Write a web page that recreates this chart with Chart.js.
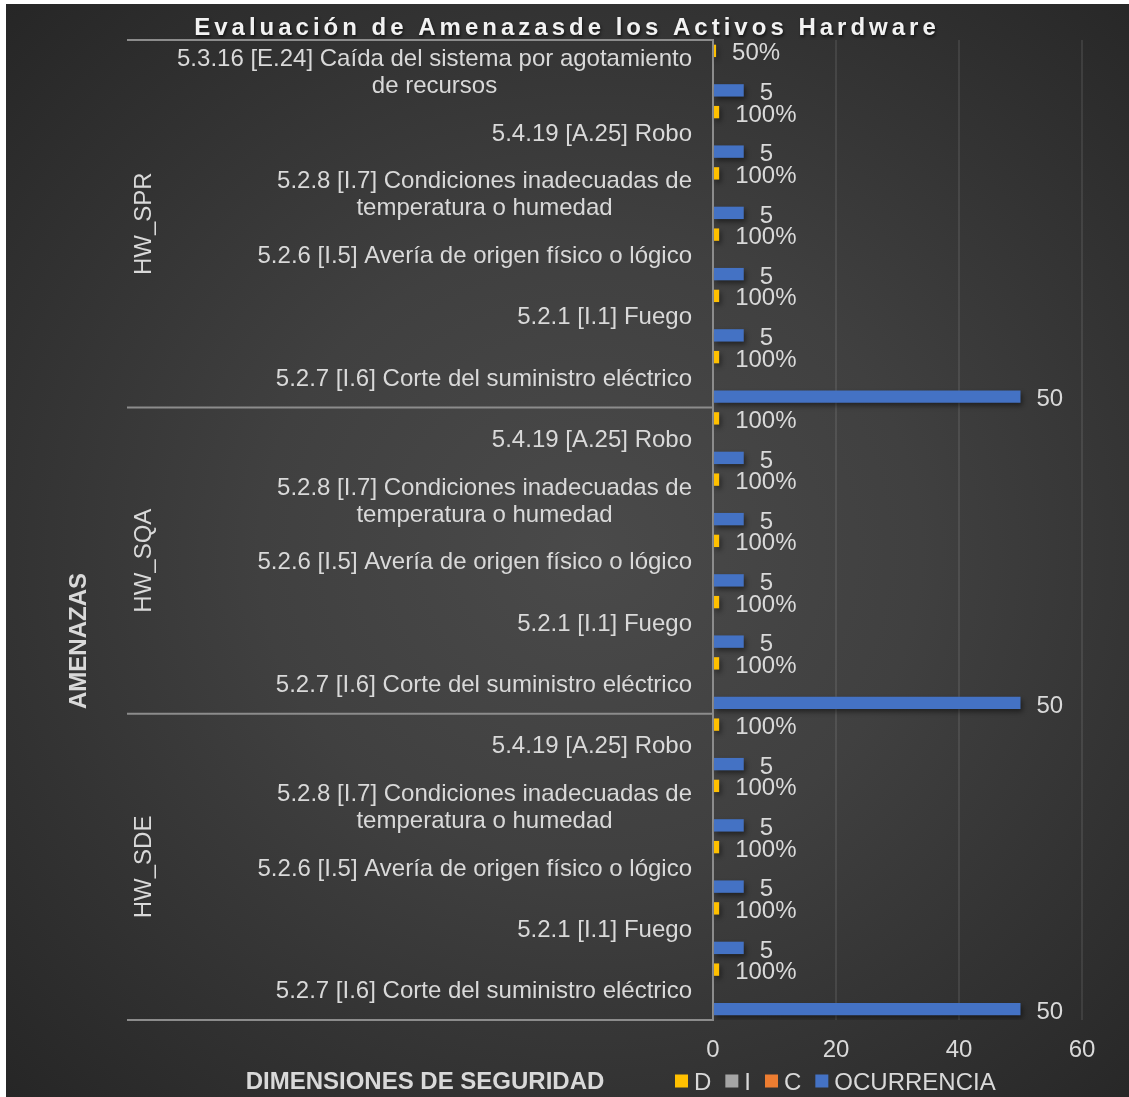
<!DOCTYPE html>
<html>
<head>
<meta charset="utf-8">
<script src="https://cdn.jsdelivr.net/npm/chart.js@4.4.0/dist/chart.umd.min.js"></script>
<style>
  html, body { margin: 0; padding: 0; background: #fff; }
  #wrap {
    position: absolute; left: 6px; top: 4px; width: 1123px; height: 1093px;
    background: radial-gradient(ellipse at 52% 50%, #4a4a4a 0%, #404040 40%, #262626 100%);
  }
  canvas { display: block; }
</style>
</head>
<body>
<div id="wrap"><canvas id="threatChart" width="1123" height="1093"></canvas></div>
<script>
const groups = ['HW_SPR', 'HW_SQA', 'HW_SDE']
const groupSizes = [6, 5, 5]

const categories = [
    ['5.3.16 [E.24] Caída del sistema por agotamiento', 'de recursos'],
    '5.4.19 [A.25] Robo',
    ['5.2.8 [I.7] Condiciones inadecuadas de', 'temperatura o humedad'],
    '5.2.6 [I.5] Avería de origen físico o lógico',
    '5.2.1 [I.1] Fuego',
    '5.2.7 [I.6] Corte del suministro eléctrico',
    '5.4.19 [A.25] Robo',
    ['5.2.8 [I.7] Condiciones inadecuadas de', 'temperatura o humedad'],
    '5.2.6 [I.5] Avería de origen físico o lógico',
    '5.2.1 [I.1] Fuego',
    '5.2.7 [I.6] Corte del suministro eléctrico',
    '5.4.19 [A.25] Robo',
    ['5.2.8 [I.7] Condiciones inadecuadas de', 'temperatura o humedad'],
    '5.2.6 [I.5] Avería de origen físico o lógico',
    '5.2.1 [I.1] Fuego',
    '5.2.7 [I.6] Corte del suministro eléctrico'
]

const valuesD = [0.5, 1, 1, 1, 1, 1, 1, 1, 1, 1, 1, 1, 1, 1, 1, 1]
const valuesI = [null, null, null, null, null, null, null, null, null, null, null, null, null, null, null, null]
const valuesC = [null, null, null, null, null, null, null, null, null, null, null, null, null, null, null, null]
const valuesOcurrencia = [5, 5, 5, 5, 5, 50, 5, 5, 5, 5, 50, 5, 5, 5, 5, 50]
const xTicks = [0, 20, 40, 60]

const textColor = '#d9d9d9'
const fontFamily = '"Liberation Sans", Arial, sans-serif'

const extras = {
    id: 'extras',
    beforeDatasetsDraw(chart) {
        const ctx = chart.ctx
        ctx.save()
        ctx.shadowColor = 'rgba(0,0,0,0.45)'
        ctx.shadowBlur = 5
        ctx.shadowOffsetX = 2
        ctx.shadowOffsetY = 3
    },
    afterDatasetsDraw(chart) {
        const ctx = chart.ctx
        ctx.restore()

        // value labels
        ctx.save()
        ctx.font = `24px ${fontFamily}`
        ctx.fillStyle = textColor
        ctx.textAlign = 'left'
        ctx.textBaseline = 'middle'
        chart.data.datasets.forEach((ds, i) => {
            const meta = chart.getDatasetMeta(i)
            meta.data.forEach((bar, j) => {
                const v = ds.data[j]
                if (v == null) return
                const text = ds.label === 'D' ? Math.round(v * 100) + '%' : String(v)
                ctx.fillText(text, bar.x + 16, bar.y + 3)
            })
        })
        ctx.restore()
    },
    afterDraw(chart) {
        const ctx = chart.ctx
        const area = chart.chartArea
        const y = chart.scales.y
        ctx.save()

        // title
        ctx.save()
        ctx.font = `bold 24px ${fontFamily}`
        ctx.letterSpacing = '4px'
        ctx.fillStyle = '#f2f2f2'
        ctx.textAlign = 'center'
        ctx.textBaseline = 'middle'
        ctx.shadowColor = 'rgba(0,0,0,0.6)'
        ctx.shadowBlur = 3
        ctx.shadowOffsetX = 1
        ctx.shadowOffsetY = 2
        ctx.fillText('Evaluación de Amenazasde los Activos Hardware', 561, 24)
        ctx.restore()

        // category labels
        ctx.font = `24px ${fontFamily}`
        ctx.fillStyle = textColor
        ctx.textAlign = 'center'
        ctx.textBaseline = 'middle'
        const right = area.left - 21
        chart.data.labels.forEach((lab, i) => {
            const yc = y.getPixelForValue(i) + 2
            const lines = Array.isArray(lab) ? lab : [lab]
            const widest = Math.max(...lines.map(l => ctx.measureText(l).width))
            lines.forEach((l, k) => {
                ctx.fillText(l, right - widest / 2, yc + (k - (lines.length - 1) / 2) * 27)
            })
        })

        // group separators + group labels
        const bounds = [y.top]
        let count = 0
        groupSizes.forEach(n => {
            count += n
            if (count < chart.data.labels.length) {
                bounds.push((y.getPixelForValue(count - 1) + y.getPixelForValue(count)) / 2)
            } else {
                bounds.push(y.bottom)
            }
        })
        ctx.strokeStyle = '#8c8c8c'
        ctx.lineWidth = 2
        bounds.forEach(b => {
            ctx.beginPath()
            ctx.moveTo(121, b)
            ctx.lineTo(area.left, b)
            ctx.stroke()
        })
        groups.forEach((g, i) => {
            ctx.save()
            ctx.translate(138, (bounds[i] + bounds[i + 1]) / 2)
            ctx.rotate(-Math.PI / 2)
            ctx.fillText(g, 0, 0)
            ctx.restore()
        })

        // axis titles
        ctx.font = `bold 24px ${fontFamily}`
        ctx.save()
        ctx.translate(73, 637)
        ctx.rotate(-Math.PI / 2)
        ctx.fillText('AMENAZAS', 0, 0)
        ctx.restore()
        ctx.fillText('DIMENSIONES DE SEGURIDAD', 419, 1078)

        // legend
        ctx.font = `24px ${fontFamily}`
        ctx.textAlign = 'left'
        let lx = 669
        const ly = 1077
        chart.data.datasets.forEach(ds => {
            ctx.fillStyle = ds.backgroundColor
            ctx.fillRect(lx, ly - 6.5, 13, 13)
            ctx.fillStyle = textColor
            ctx.fillText(ds.label, lx + 19, ly + 2)
            lx += 19 + ctx.measureText(ds.label).width + 14
        })

        ctx.restore()
    }
}

new Chart(document.getElementById('threatChart'), {
    type: 'bar',
    data: {
        labels: categories,
        datasets: [
            { label: 'D', data: valuesD, backgroundColor: '#ffc000' },
            { label: 'I', data: valuesI, backgroundColor: '#a5a5a5' },
            { label: 'C', data: valuesC, backgroundColor: '#ed7d31' },
            { label: 'OCURRENCIA', data: valuesOcurrencia, backgroundColor: '#4472c4' }
        ]
    },
    options: {
        indexAxis: 'y',
        responsive: false,
        animation: false,
        categoryPercentage: 0.86,
        barPercentage: 0.94,
        layout: { padding: { left: 0, top: 36, right: 47, bottom: 32 } },
        plugins: {
            legend: { display: false },
            tooltip: { enabled: false }
        },
        scales: {
            x: {
                min: 0,
                max: 60,
                afterBuildTicks: scale => { scale.ticks = xTicks.map(v => ({ value: v })) },
                ticks: { color: textColor, font: { size: 24, family: fontFamily }, padding: 16 },
                grid: { color: 'rgba(255,255,255,0.09)', lineWidth: 2, drawTicks: false },
                border: { display: false },
                afterFit: scale => { scale.height = 45 }
            },
            y: {
                ticks: { display: false },
                grid: { display: false },
                border: { display: true, color: '#8c8c8c', width: 2 },
                afterFit: scale => { scale.width = 707 }
            }
        }
    },
    plugins: [extras]
})
</script>
</body>
</html>
